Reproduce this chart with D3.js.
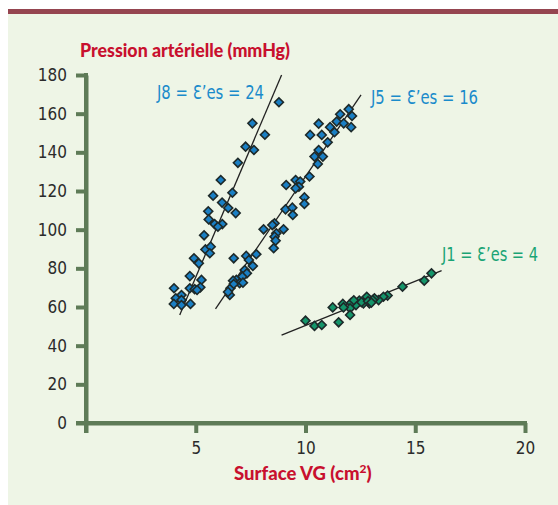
<!DOCTYPE html>
<html>
<head>
<meta charset="utf-8">
<script src="https://cdn.jsdelivr.net/npm/d3@7"></script>
<style>
  body { margin:0; background:#fff; }
  svg { display:block; }
</style>
</head>
<body>
<div id="chart"></div>
<script>
// J8 : E'es = 24
const j8 = [
  [8.79,165.9],[7.58,155.0],[8.15,149.1],[7.27,142.9],[7.65,141.2],[6.92,134.6],
  [6.14,125.7],[6.67,119.1],[5.79,117.6],[6.20,114.0],[6.48,111.2],[6.82,108.6],
  [5.57,109.5],[5.59,105.3],[5.86,102.9],[6.21,102.9],[6.01,101.5],[5.38,97.1],
  [5.44,89.8],[5.68,91.2],[5.64,87.8],[4.92,85.2],[5.14,82.6],[4.73,76.0],
  [5.26,74.0],[4.73,69.7],[4.95,69.2],[5.21,70.2],[5.06,68.8],[4.01,69.7],
  [4.35,66.2],[4.09,64.5],[4.35,63.6],[4.00,61.6],[4.35,61.0],[4.76,61.6]
]
// J5 : E'es = 16
const j5 = [
  [11.97,162.3],[11.58,159.7],[12.12,158.8],[11.42,155.9],[11.74,155.0],[10.60,154.8],
  [11.12,153.0],[12.08,153.0],[11.32,150.4],[10.21,149.0],[10.74,149.0],[11.01,145.2],
  [10.60,141.2],[10.41,137.8],[10.79,137.8],[10.56,134.0],[10.18,127.5],[9.55,125.7],
  [9.76,124.9],[9.12,123.1],[9.70,122.2],[9.55,121.4],[9.95,116.7],[9.95,113.3],
  [9.09,110.5],[9.40,111.4],[9.42,107.6],[8.59,103.3],[8.49,102.4],[8.09,100.2],
  [9.00,100.2],[8.67,98.1],[8.59,96.4],[8.64,94.3],[8.55,90.4],[7.76,87.3],
  [7.30,86.4],[7.42,84.3],[6.73,85.2],[7.60,81.2],[7.23,79.1],[7.33,77.4],
  [7.12,75.7],[6.85,74.0],[6.70,73.6],[7.00,72.3],[7.15,72.6],[6.58,69.7],
  [6.55,66.2],[6.73,71.9],[6.47,67.8]
]
// J1 : E'es = 4
const j1 = [
  [15.74,77.4],[15.41,73.6],[14.42,70.5],[13.74,65.9],[13.55,65.3],[13.33,63.6],
  [13.14,64.5],[12.79,65.3],[12.91,61.9],[12.64,61.9],[12.45,63.3],[12.30,61.0],
  [12.08,62.2],[12.03,59.3],[11.70,61.6],[11.73,59.8],[11.24,59.8],[12.03,55.9],
  [11.51,52.1],[10.00,52.9],[10.41,50.2],[10.74,50.7],[13.06,63.6],[12.55,62.5],
  [12.20,63.5],[12.85,63.0],[13.00,62.3]
]
// regression lines (end points)
const fitJ8 = [[4.27,55.9],[8.91,180]]
const fitJ5 = [[5.90,59.0],[12.53,169.7]]
const fitJ1 = [[8.91,45.5],[16.20,78.8]]

const xTicks = [0,5,10,15,20]
const yTicks = [0,20,40,60,80,100,120,140,160,180]
const labels = ["J8 = Ɛ’es = 24","J5 = Ɛ’es = 16","J1 = Ɛ’es = 4"]

const width = 558, height = 505
const axisCol = "#5e7b57", blue = "#1a7fc4", green = "#14956a"
const condensed = "'Liberation Sans Narrow','DejaVu Sans Condensed',sans-serif"

let svg = d3.select("#chart").append("svg").attr("width",width).attr("height",height)
svg.append("rect").attr("x",8).attr("y",14).attr("width",width-8).attr("height",height-14).attr("fill","#eef5e6")
svg.append("rect").attr("x",8).attr("y",9).attr("width",width-8).attr("height",5).attr("fill","#954550")

let xScale = d3.scaleLinear().domain([0,20]).range([86,525])
let yScale = d3.scaleLinear().domain([0,180]).range([423,75])

let xAxis = d3.axisBottom(xScale).tickValues(xTicks).tickSize(10).tickSizeOuter(0).tickPadding(9)
  .tickFormat(d => d === 0 ? "" : d)
let yAxis = d3.axisLeft(yScale).tickValues(yTicks).tickSize(10).tickSizeOuter(0).tickPadding(9)

let gx = svg.append("g").attr("transform",`translate(0,${yScale(0)})`).call(xAxis)
let gy = svg.append("g").attr("transform",`translate(${xScale(0)},0)`).call(yAxis)
;[gx,gy].forEach(g => {
  g.select(".domain").attr("stroke",axisCol).attr("stroke-width",4)
  g.selectAll(".tick line").attr("stroke",axisCol).attr("stroke-width",4)
  g.selectAll(".tick text").attr("fill","#2b2b2b").style("font-family",condensed).style("font-size","17px")
})
// extend axes to meet the corner ticks
svg.append("line").attr("x1",xScale(0)-10).attr("x2",xScale(20)+2).attr("y1",yScale(0)).attr("y2",yScale(0))
  .attr("stroke",axisCol).attr("stroke-width",4)
svg.append("line").attr("x1",xScale(0)).attr("x2",xScale(0)).attr("y1",yScale(180)-2).attr("y2",yScale(0)+10)
  .attr("stroke",axisCol).attr("stroke-width",4)

let line = d3.line().x(d => xScale(d[0])).y(d => yScale(d[1]))
;[fitJ8,fitJ5,fitJ1].forEach(f => {
  svg.append("path").attr("d",line(f)).attr("stroke","#222").attr("stroke-width",1.3).attr("fill","none")
})

let diamond = d3.symbol().type(d3.symbolSquare).size(40)
function drawPts(data, col){
  svg.append("g").selectAll("path")
    .data(data)
    .enter()
    .append("path")
    .attr("d",diamond)
    .attr("transform",d => `translate(${xScale(d[0])},${yScale(d[1])}) rotate(45)`)
    .attr("fill",col)
    .attr("stroke","#1e2a2a")
    .attr("stroke-width",1.6)
}
drawPts(j8,blue)
drawPts(j5,blue)
drawPts(j1,green)

svg.append("text").attr("x",80).attr("y",57).text("Pression artérielle (mmHg)")
  .attr("textLength",210).attr("lengthAdjust","spacingAndGlyphs")
  .attr("fill","#c8102e").style("font-family","Lato,sans-serif").style("font-weight","900").style("font-size","18.5px")
svg.append("text").attr("x",234).attr("y",480)
  .attr("fill","#c8102e").style("font-family","Lato,sans-serif").style("font-weight","900").style("font-size","18.5px")
  .html("Surface VG (cm<tspan dy='-7' font-size='12px'>2</tspan><tspan dy='7'>)</tspan>")

let lab = svg.append("g").style("font-family",condensed).style("font-size","19px")
lab.append("text").attr("x",157).attr("y",99).attr("fill","#1a8bcb").text(labels[0])
  .attr("textLength",107).attr("lengthAdjust","spacingAndGlyphs")
lab.append("text").attr("x",371).attr("y",104).attr("fill","#1a8bcb").text(labels[1])
  .attr("textLength",107).attr("lengthAdjust","spacingAndGlyphs")
lab.append("text").attr("x",442).attr("y",261).attr("fill","#1aa475").text(labels[2])
  .attr("textLength",96).attr("lengthAdjust","spacingAndGlyphs")
</script>
</body>
</html>
